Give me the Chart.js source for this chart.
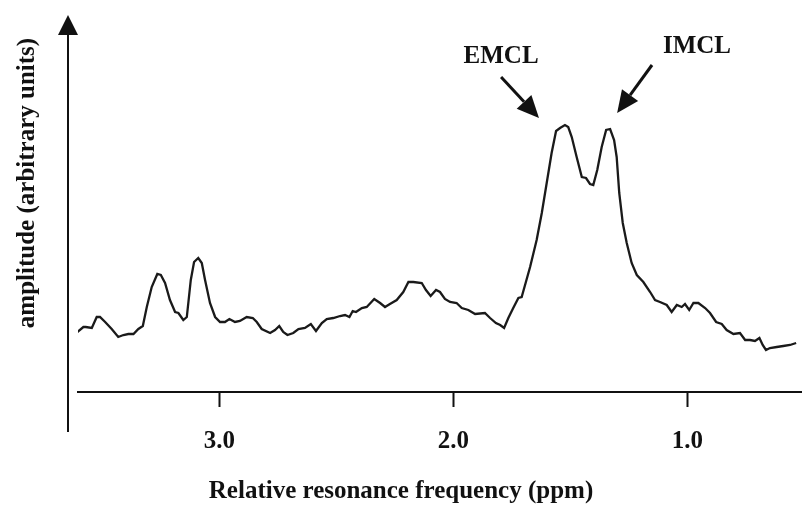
<!DOCTYPE html>
<html>
<head>
<meta charset="utf-8">
<script src="https://cdn.jsdelivr.net/npm/chart.js@4/dist/chart.umd.min.js"></script>
<style>
  html, body { margin:0; padding:0; background:#fff; }
  #wrap { width:802px; height:506px; }
</style>
</head>
<body>
<div id="wrap"><canvas id="c" width="802" height="506"></canvas></div>
<script>
// spectrum (ppm, arbitrary amplitude)
const ppm = [
  3.607, 3.581, 3.571, 3.545, 3.524, 3.510, 3.488, 3.460, 3.432, 3.410,
  3.389, 3.367, 3.346, 3.327, 3.310, 3.289, 3.265, 3.250, 3.232, 3.211,
  3.189, 3.175, 3.154, 3.139, 3.122, 3.108, 3.090, 3.075, 3.061, 3.040,
  3.018, 2.997, 2.976, 2.957, 2.933, 2.912, 2.883, 2.857, 2.840, 2.819,
  2.783, 2.762, 2.744, 2.727, 2.709, 2.684, 2.662, 2.634, 2.609, 2.587,
  2.562, 2.541, 2.513, 2.484, 2.463, 2.444, 2.430, 2.416, 2.391, 2.370,
  2.338, 2.313, 2.292, 2.271, 2.242, 2.214, 2.192, 2.171, 2.135, 2.117,
  2.097, 2.074, 2.057, 2.036, 2.014, 1.986, 1.964, 1.936, 1.907, 1.865,
  1.843, 1.818, 1.800, 1.783, 1.765, 1.744, 1.722, 1.708, 1.672, 1.644,
  1.622, 1.601, 1.580, 1.561, 1.544, 1.523, 1.509, 1.494, 1.473, 1.451,
  1.433, 1.416, 1.402, 1.385, 1.366, 1.347, 1.330, 1.313, 1.302, 1.291,
  1.276, 1.259, 1.238, 1.216, 1.188, 1.159, 1.138, 1.117, 1.088, 1.067,
  1.045, 1.024, 1.010, 0.992, 0.974, 0.953, 0.924, 0.903, 0.877, 0.853,
  0.832, 0.803, 0.775, 0.753, 0.732, 0.711, 0.692, 0.678, 0.664, 0.647,
  0.618, 0.590, 0.561, 0.535
];
const amplitude = [
  0.60, 0.65, 0.65, 0.64, 0.75, 0.75, 0.70, 0.63, 0.55, 0.57,
  0.58, 0.58, 0.63, 0.66, 0.85, 1.05, 1.18, 1.17, 1.09, 0.92,
  0.80, 0.79, 0.72, 0.75, 1.12, 1.30, 1.34, 1.29, 1.12, 0.89,
  0.75, 0.70, 0.70, 0.73, 0.70, 0.71, 0.75, 0.74, 0.70, 0.63,
  0.59, 0.62, 0.66, 0.60, 0.57, 0.59, 0.63, 0.64, 0.68, 0.61,
  0.69, 0.73, 0.74, 0.76, 0.77, 0.75, 0.81, 0.80, 0.84, 0.85,
  0.93, 0.89, 0.85, 0.88, 0.92, 1.00, 1.10, 1.10, 1.09, 1.02,
  0.96, 1.02, 1.00, 0.93, 0.90, 0.89, 0.84, 0.82, 0.78, 0.79,
  0.74, 0.69, 0.67, 0.64, 0.74, 0.84, 0.94, 0.95, 1.25, 1.52,
  1.79, 2.09, 2.39, 2.61, 2.64, 2.67, 2.65, 2.55, 2.35, 2.15,
  2.14, 2.08, 2.07, 2.22, 2.45, 2.62, 2.63, 2.52, 2.35, 1.99,
  1.69, 1.49, 1.29, 1.17, 1.10, 1.00, 0.92, 0.90, 0.87, 0.80,
  0.87, 0.85, 0.88, 0.82, 0.89, 0.89, 0.84, 0.79, 0.70, 0.68,
  0.62, 0.58, 0.59, 0.52, 0.52, 0.51, 0.54, 0.47, 0.42, 0.44,
  0.45, 0.46, 0.47, 0.49
];
const tickValues = [3.0, 2.0, 1.0];
const xRange = [0.51, 3.604];
const yRange = [0, 3.74];

// peak labels: text position and arrow (from -> tip), in ppm / amplitude
const peakNames = ['EMCL', 'IMCL'];
const labelAt = [[1.796, 3.35], [0.959, 3.45]];
const arrowFrom = [[1.796, 3.15], [1.151, 3.27]];
const arrowTip = [[1.634, 2.74], [1.300, 2.79]];

const INK = '#111';
const SERIF = '"Liberation Serif", "Times New Roman", serif';
const FONT = 'bold 25px ' + SERIF;

function arrow(ctx, x1, y1, x2, y2, len, half){
  const a = Math.atan2(y2 - y1, x2 - x1);
  const bx = x2 - len * Math.cos(a), by = y2 - len * Math.sin(a);
  ctx.beginPath();
  ctx.moveTo(x1, y1); ctx.lineTo(bx, by);
  ctx.stroke();
  ctx.beginPath();
  ctx.moveTo(x2, y2);
  ctx.lineTo(bx + half * Math.sin(a), by - half * Math.cos(a));
  ctx.lineTo(bx - half * Math.sin(a), by + half * Math.cos(a));
  ctx.closePath();
  ctx.fill();
}

const decor = {
  id: 'decor',
  afterDraw(chart){
    const { ctx, chartArea: ca, scales: { x, y } } = chart;
    ctx.save();
    ctx.strokeStyle = INK; ctx.fillStyle = INK;
    ctx.lineWidth = 2;

    // y axis with arrow head, sits left of the plot and runs below the x axis
    const ax = ca.left - 10;
    arrow(ctx, ax, ca.bottom + 40, ax, ca.top - 3, 20, 10);

    ctx.font = FONT;
    ctx.textAlign = 'center'; ctx.textBaseline = 'middle';

    // x title, centred on the whole figure rather than the plot
    ctx.fillText('Relative resonance frequency (ppm)', chart.width / 2, chart.height - 14);

    // y title
    ctx.save();
    ctx.translate(ax - 40, (ca.top + ca.bottom) / 2 - 22);
    ctx.rotate(-Math.PI / 2);
    ctx.fillText('amplitude (arbitrary units)', 0, 0);
    ctx.restore();

    // peak annotations
    ctx.lineWidth = 3;
    peakNames.forEach((name, i) => {
      ctx.fillText(name, x.getPixelForValue(labelAt[i][0]), y.getPixelForValue(labelAt[i][1]));
      arrow(ctx,
        x.getPixelForValue(arrowFrom[i][0]), y.getPixelForValue(arrowFrom[i][1]),
        x.getPixelForValue(arrowTip[i][0]), y.getPixelForValue(arrowTip[i][1]), 22, 10);
    });
    ctx.restore();
  }
};

new Chart(document.getElementById('c'), {
  type: 'line',
  data: {
    datasets: [{
      data: ppm.map((p, i) => ({ x: p, y: amplitude[i] })),
      borderColor: '#1a1a1a',
      borderWidth: 2.3,
      pointRadius: 0,
      tension: 0,
      fill: false
    }]
  },
  options: {
    responsive: false,
    animation: false,
    layout: { padding: { left: 78, top: 18, right: 0, bottom: 0 } },
    plugins: { legend: { display: false }, tooltip: { enabled: false } },
    scales: {
      x: {
        type: 'linear',
        reverse: true,
        min: xRange[0], max: xRange[1],
        afterBuildTicks: s => { s.ticks = tickValues.map(v => ({ value: v })); },
        afterFit: s => { s.height = 114; },
        grid: { display: true, drawOnChartArea: false, drawTicks: true, tickLength: 15, tickWidth: 2, tickColor: INK },
        border: { display: true, color: INK, width: 2 },
        ticks: {
          color: INK, padding: 20, maxRotation: 0,
          font: { family: SERIF, size: 25, weight: 'bold' },
          callback: v => Number(v).toFixed(1)
        },
        title: { display: false }
      },
      y: {
        display: false,
        min: yRange[0], max: yRange[1]
      }
    }
  },
  plugins: [decor]
});
</script>
</body>
</html>
